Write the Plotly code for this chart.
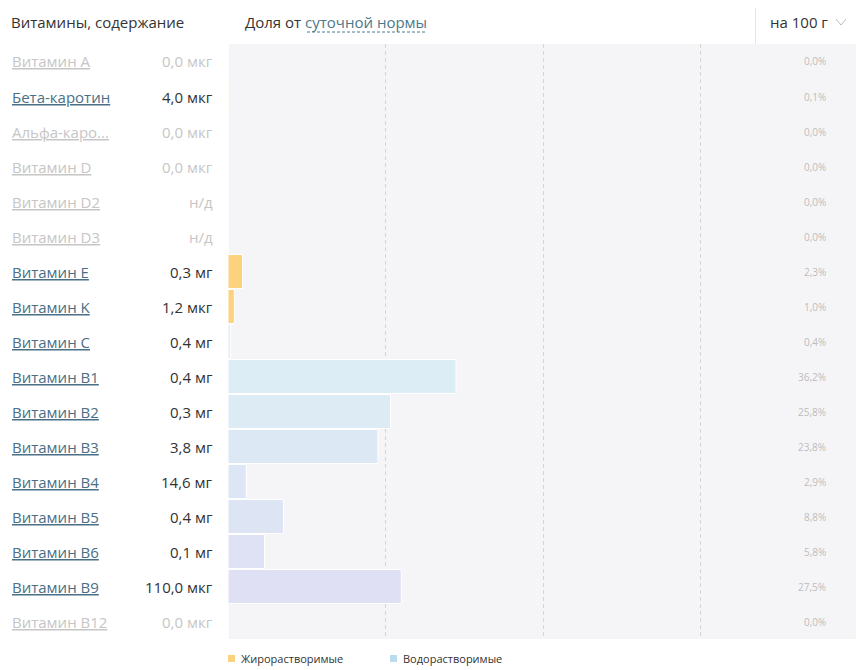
import plotly.graph_objects as go

# the page body has an 8px margin, so the figure is 8px smaller each way
W, H = 856, 662
OFF = 8

names = ["Витамин A", "Бета-каротин", "Альфа-каро...", "Витамин D", "Витамин D2",
         "Витамин D3", "Витамин E", "Витамин K", "Витамин C", "Витамин B1",
         "Витамин B2", "Витамин B3", "Витамин B4", "Витамин B5", "Витамин B6",
         "Витамин B9", "Витамин B12"]
amounts = ["0,0 мкг", "4,0 мкг", "0,0 мкг", "0,0 мкг", "н/д", "н/д", "0,3 мг",
           "1,2 мкг", "0,4 мг", "0,4 мг", "0,3 мг", "3,8 мг", "14,6 мг",
           "0,4 мг", "0,1 мг", "110,0 мкг", "0,0 мкг"]
percents = [0.0, 0.1, 0.0, 0.0, 0.0, 0.0, 2.3, 1.0, 0.4, 36.2, 25.8, 23.8,
            2.9, 8.8, 5.8, 27.5, 0.0]
bar_colors = ["#fbd27e", "#fbd27e", "#fbd27e", "#fbd27e", "#fbd27e", "#fbd27e",
              "#fbd27e", "#fbd27e", "#dcedf5", "#dcedf5", "#dcebf4", "#dce8f3",
              "#dde6f4", "#dde5f5", "#dfe2f5", "#e0e0f5", "#e0e0f5"]
legend_names = ["Жирорастворимые", "Водорастворимые"]
legend_colors = ["#fbd27e", "#b9dcee"]


def px_x(x):
    return (x - OFF) / W


def px_y(y):
    return 1 - (y - OFF) / H


rows = list(range(len(names)))

fig = go.Figure()
fig.add_bar(
    x=percents, y=rows, orientation="h",
    marker=dict(color=bar_colors, line=dict(color="white", width=1)),
    hoverinfo="skip", showlegend=False,
)

anns = []
for i, (name, amount, pct) in enumerate(zip(names, amounts, percents)):
    active = pct > 0
    anns.append(dict(
        x=px_x(10), xref="paper", y=i, yref="y", xanchor="left", yanchor="middle",
        text="<u>%s</u>" % name, showarrow=False, yshift=0,
        font=dict(size=15, color="#4a6f86" if active else "#c6c6c6"),
    ))
    anns.append(dict(
        x=px_x(215), xref="paper", y=i, yref="y", xanchor="right", yanchor="middle",
        text=amount, showarrow=False, yshift=0,
        font=dict(size=15, color="#333333" if active else "#c6c6c6"),
    ))
    anns.append(dict(
        x=px_x(828), xref="paper", y=i, yref="y", xanchor="right", yanchor="middle",
        text=("%.1f" % pct).replace(".", ",") + "%", showarrow=False, yshift=0,
        font=dict(size=10, color="#bdbdbd"),
    ))

# header
anns += [
    dict(x=px_x(9), y=px_y(22), xref="paper", yref="paper", xanchor="left",
         yanchor="middle", text="Витамины, содержание", showarrow=False,
         font=dict(size=15, color="#333333")),
    dict(x=px_x(243), y=px_y(22), xref="paper", yref="paper", xanchor="left",
         yanchor="middle", showarrow=False,
         text="Доля от <span style='color:#4a7a8c'>суточной нормы</span>",
         font=dict(size=15, color="#333333")),
    dict(x=px_x(768), y=px_y(22), xref="paper", yref="paper", xanchor="left",
         yanchor="middle", text="на 100 г", showarrow=False,
         font=dict(size=15, color="#333333")),
]

shapes = [
    dict(type="line", xref="paper", yref="paper", x0=px_x(307), x1=px_x(427),
         y0=px_y(32), y1=px_y(32), line=dict(color="#4a7a8c", width=1, dash="3px,2px")),
    dict(type="line", xref="paper", yref="paper", x0=px_x(755.5), x1=px_x(755.5),
         y0=px_y(8), y1=px_y(44), line=dict(color="#e6e6e6", width=1)),
    dict(type="line", xref="paper", yref="paper", x0=px_x(862), x1=px_x(862),
         y0=px_y(8), y1=px_y(670), line=dict(color="#e6e6e6", width=2)),
    dict(type="path", xref="paper", yref="paper", line=dict(color="#bbbbbb", width=1),
         path="M %f %f L %f %f L %f %f" % (px_x(836), px_y(19), px_x(841), px_y(25),
                                          px_x(846), px_y(19))),
]

# legend
leg_x = [228, 390]
for lx, name, col in zip(leg_x, legend_names, legend_colors):
    shapes.append(dict(type="rect", xref="paper", yref="paper", x0=px_x(lx),
                       x1=px_x(lx + 7), y0=px_y(655), y1=px_y(662),
                       fillcolor=col, line=dict(width=0)))
    anns.append(dict(x=px_x(lx + 11), y=px_y(659), xref="paper", yref="paper",
                     xanchor="left", yanchor="middle", text=name, showarrow=False,
                     yshift=1, font=dict(size=11, color="#333333")))

fig.update_layout(
    width=W, height=H,
    margin=dict(l=0, r=0, t=0, b=0),
    paper_bgcolor="white", plot_bgcolor="#f5f5f7",
    font=dict(family="Open Sans, Noto Sans, sans-serif"),
    bargap=0.03,
    annotations=anns, shapes=shapes,
    xaxis=dict(domain=[px_x(228), px_x(861)], range=[0, 100 * 633 / 630],
               tickvals=[25, 50, 75], showticklabels=False, showgrid=True,
               gridcolor="#d5d5d5", griddash="4px,3px", gridwidth=1,
               zeroline=False, showline=False, fixedrange=True),
    yaxis=dict(domain=[px_y(639), px_y(44)], range=[len(names) - 0.5, -0.5],
               showticklabels=False, showgrid=False, zeroline=False, fixedrange=True),
)

fig.write_html("out.html")
